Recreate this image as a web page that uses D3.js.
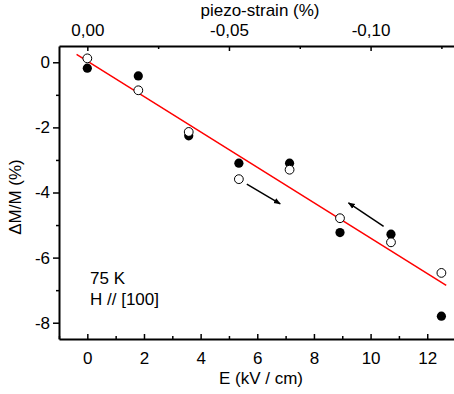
<!DOCTYPE html>
<html>
<head>
<meta charset="utf-8">
<script src="https://cdn.jsdelivr.net/npm/d3@7"></script>
<style>
  html, body { margin: 0; padding: 0; background: #fff; }
  svg text { font-family: "Liberation Sans", Arial, sans-serif; fill: #000; }
</style>
</head>
<body>
<div id="GRAPH_SVG"></div>
<script>
const WIDTH = 454;
const HEIGHT = 394;

// data
const E_FIELD = [0, 1.8, 3.58, 5.35, 7.14, 8.92, 10.72, 12.5];
const DM_FILLED = [-0.18, -0.42, -2.26, -3.10, -3.10, -5.23, -5.28, -7.80];
const DM_OPEN = [0.12, -0.86, -2.14, -3.59, -3.30, -4.79, -5.53, -6.47];

const FIT_E = [-0.38, 12.67];
const FIT_DM = [0.245, -6.85];

// arrows: [E0, dm0, E1, dm1]
const ARROWS = [[5.63, -3.74, 6.81, -4.35], [10.46, -5.04, 9.22, -4.32]];

const X_TICKS = [0, 2, 4, 6, 8, 10, 12];
const X_MINOR = [-1, 1, 3, 5, 7, 9, 11, 13];
const Y_TICKS = [0, -2, -4, -6, -8];
const Y_MINOR = [-1, -3, -5, -7];
const STRAIN_TICKS = [0, -0.05, -0.10];
const STRAIN_MINOR = [-0.025, -0.075, -0.125];
const STRAIN_PER_E = -0.01;

const LEFT = 59, RIGHT = 455, TOP = 46, BOTTOM = 339;
const FS = "17px";

const xScale = d3.scaleLinear().domain([-1, 12.98]).range([LEFT, RIGHT]);
const yScale = d3.scaleLinear().domain([0.5, -8.5]).range([TOP, BOTTOM]);
const sScale = d3.scaleLinear().domain([-1 * STRAIN_PER_E, 12.98 * STRAIN_PER_E]).range([LEFT, RIGHT]);

const fmtInt = d => String(d);
const fmtComma = d => d3.format(".2f")(d).replace("\u2212", "-").replace(".", ",").replace("-0,00", "0,00");

const svg = d3.select("#GRAPH_SVG").append("svg")
  .attr("width", WIDTH).attr("height", HEIGHT);

svg.append("defs").append("marker")
  .attr("id", "arr")
  .attr("viewBox", "0 0 10 10")
  .attr("refX", 9).attr("refY", 5)
  .attr("markerWidth", 7).attr("markerHeight", 7)
  .attr("markerUnits", "userSpaceOnUse")
  .attr("orient", "auto")
  .append("path").attr("d", "M0,1 L10,5 L0,9 Z").attr("fill", "#000");

// bottom axis (ticks inward)
svg.append("g")
  .attr("transform", "translate(0," + BOTTOM + ")")
  .call(d3.axisBottom(xScale).tickValues(X_TICKS).tickSizeInner(-5).tickSizeOuter(0).tickPadding(13).tickFormat(fmtInt));
svg.append("g")
  .attr("transform", "translate(0," + BOTTOM + ")")
  .call(d3.axisBottom(xScale).tickValues(X_MINOR).tickSizeInner(-3).tickSizeOuter(0).tickFormat(""))
  .select(".domain").remove();

// top axis
svg.append("g")
  .attr("transform", "translate(0," + TOP + ")")
  .call(d3.axisTop(sScale).tickValues(STRAIN_TICKS).tickSizeInner(-5).tickSizeOuter(0).tickPadding(10).tickFormat(fmtComma));
svg.append("g")
  .attr("transform", "translate(0," + TOP + ")")
  .call(d3.axisTop(sScale).tickValues(STRAIN_MINOR).tickSizeInner(-3).tickSizeOuter(0).tickFormat(""))
  .select(".domain").remove();

// left axis (ticks outward)
svg.append("g")
  .attr("transform", "translate(" + LEFT + ",0)")
  .call(d3.axisLeft(yScale).tickValues(Y_TICKS).tickSizeInner(6).tickSizeOuter(0).tickPadding(3).tickFormat(fmtInt));
svg.append("g")
  .attr("transform", "translate(" + LEFT + ",0)")
  .call(d3.axisLeft(yScale).tickValues(Y_MINOR).tickSizeInner(3).tickSizeOuter(0).tickFormat(""))
  .select(".domain").remove();

svg.selectAll(".domain").attr("stroke", "#000").attr("stroke-width", 2);
svg.selectAll(".tick line").attr("stroke", "#000").attr("stroke-width", 1.5);
svg.selectAll(".tick text").style("font-size", FS);

// axis titles
svg.append("text")
  .attr("x", 261).attr("y", 384)
  .attr("text-anchor", "middle")
  .style("font-size", FS)
  .text("E (kV / cm)");

svg.append("text")
  .attr("x", 260).attr("y", 16)
  .attr("text-anchor", "middle")
  .style("font-size", FS)
  .text("piezo-strain (%)");

svg.append("text")
  .attr("transform", "translate(21," + 197 + ") rotate(-90)")
  .attr("text-anchor", "middle")
  .style("font-size", FS)
  .text("\u0394M/M (%)");

// fit line
svg.append("line")
  .attr("x1", xScale(FIT_E[0])).attr("y1", yScale(FIT_DM[0]))
  .attr("x2", xScale(FIT_E[1])).attr("y2", yScale(FIT_DM[1]))
  .attr("stroke", "#ff0000").attr("stroke-width", 1.5);

// arrows
svg.selectAll(".arrow").data(ARROWS).enter().append("line")
  .attr("x1", d => xScale(d[0])).attr("y1", d => yScale(d[1]))
  .attr("x2", d => xScale(d[2])).attr("y2", d => yScale(d[3]))
  .attr("stroke", "#000").attr("stroke-width", 1.5)
  .attr("marker-end", "url(#arr)");

// points
svg.selectAll(".filled").data(E_FIELD).enter().append("circle")
  .attr("cx", d => xScale(d))
  .attr("cy", (d, i) => yScale(DM_FILLED[i]))
  .attr("r", 4.6)
  .attr("fill", "#000");

svg.selectAll(".open").data(E_FIELD).enter().append("circle")
  .attr("cx", d => xScale(d))
  .attr("cy", (d, i) => yScale(DM_OPEN[i]))
  .attr("r", 4.4)
  .attr("fill", "#fff")
  .attr("stroke", "#000")
  .attr("stroke-width", 1);

// annotation
const note = svg.append("text").attr("x", 90).attr("y", 284).style("font-size", FS);
note.append("tspan").attr("x", 90).text("75 K");
note.append("tspan").attr("x", 90).attr("dy", 21).text("H // [100]");
</script>
</body>
</html>
